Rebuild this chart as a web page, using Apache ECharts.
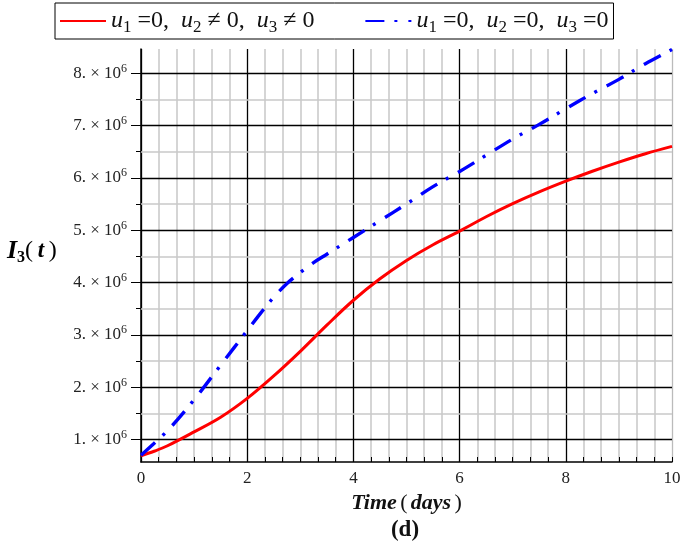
<!DOCTYPE html>
<html><head><meta charset="utf-8">
<script src="https://cdn.jsdelivr.net/npm/echarts@6/dist/echarts.min.js"></script>
<style>html,body{margin:0;padding:0;background:#fff}#c{width:685px;height:549px}</style>
</head><body><div id="c"></div>
<script>
// Time (days)
const redT = [0, 0.26, 0.5, 1.0, 1.5, 2.0, 2.5, 3.0, 3.5, 4.0, 4.5, 5.0, 5.5, 6.0, 6.5, 7.0, 7.5, 8.0, 8.5, 9.0, 9.5, 10];
const redV = [690000, 780000, 880000, 1145000, 1425000, 1785000, 2215000, 2685000, 3185000, 3660000, 4070000, 4420000, 4720000, 4980000, 5255000, 5505000, 5730000, 5935000, 6125000, 6300000, 6460000, 6600000];
const blueT = [0, 0.5, 1.0, 1.5, 2.0, 2.25, 2.5, 2.75, 3.0, 3.25, 3.5, 4.0, 4.5, 5.0, 5.5, 6.0, 6.5, 7.0, 7.5, 8.0, 8.5, 9.0, 9.5, 10];
const blueV = [700000, 1170000, 1760000, 2420000, 3080000, 3410000, 3720000, 3980000, 4190000, 4380000, 4540000, 4860000, 5180000, 5500000, 5830000, 6120000, 6430000, 6740000, 7020000, 7320000, 7610000, 7880000, 8180000, 8450000];
const yMajor = [1000000, 2000000, 3000000, 4000000, 5000000, 6000000, 7000000, 8000000];
const yMinor = [1500000, 2500000, 3500000, 4500000, 5500000, 6500000, 7500000];
const yMin = 570000, yMax = 8460000;

const SERIF = "'Liberation Serif','DejaVu Serif',serif";
const redName = '{i|u}{s|1}{n| =0,  }{i|u}{s|2}{n| ≠ 0,  }{i|u}{s|3}{n| ≠ 0}';
const blueName = '{i|u}{s|1}{n| =0,  }{i|u}{s|2}{n| =0,  }{i|u}{s|3}{n| =0}';
const legendRich = {
  i: {fontFamily: SERIF, fontStyle: 'italic', fontSize: 24, color: '#111', lineHeight: 24},
  n: {fontFamily: SERIF, fontSize: 24, color: '#111', lineHeight: 24},
  s: {fontFamily: SERIF, fontSize: 17, color: '#111', lineHeight: 24, padding: [13, 0, 0, 0]}
};
const pairs = (t, v) => t.map((x, k) => [x, v[k]]);

const chart = echarts.init(document.getElementById('c'));
chart.setOption({
  animation: false,
  backgroundColor: '#fff',
  grid: {left: 141, right: 13, top: 49, bottom: 87},
  legend: {
    data: [redName, blueName],
    left: 55, top: 3,
    padding: [3, 5, 3, 4],
    borderColor: '#000', borderWidth: 1,
    itemWidth: 46, itemHeight: 14, itemGap: 50,
    itemStyle: {opacity: 0},
    textStyle: {rich: legendRich}
  },
  xAxis: {
    type: 'value', min: 0, max: 10, interval: 2,
    axisLine: {lineStyle: {color: '#000', width: 1.5}},
    axisTick: {inside: true, length: 5, lineStyle: {color: '#000'}},
    minorTick: {show: true, splitNumber: 6, length: 5, lineStyle: {color: '#000'}},
    splitLine: {show: true, lineStyle: {color: ['#000', '#000', '#000', '#000', '#000', '#bbb'], width: 1.3}},
    minorSplitLine: {show: true, lineStyle: {color: '#c8c8c8', width: 1.5}},
    axisLabel: {fontFamily: SERIF, fontSize: 17, color: '#222', margin: 8},
    name: '{b|Time} {r|(} {b|days} {r|)}',
    nameLocation: 'middle', nameGap: 29,
    nameTextStyle: {rich: {
      b: {fontFamily: SERIF, fontStyle: 'italic', fontWeight: 'bold', fontSize: 22, color: '#111'},
      r: {fontFamily: SERIF, fontSize: 22, color: '#111'}
    }}
  },
  yAxis: [{
    type: 'value', min: yMin, max: yMax, position: 'left',
    axisLine: {show: true, lineStyle: {color: '#000', width: 1.5}},
    axisTick: {show: true, customValues: yMajor, length: 10, lineStyle: {color: '#000'}},
    splitLine: {show: false},
    axisLabel: {
      customValues: yMajor, margin: 14,
      formatter: v => '{n|' + (v / 1000000) + '. × 10}{p|6}',
      rich: {
        n: {fontFamily: SERIF, fontSize: 17, color: '#222', lineHeight: 20},
        p: {fontFamily: SERIF, fontSize: 12, color: '#222', lineHeight: 20, padding: [0, 0, 9, 0]}
      }
    }
  }, {
    type: 'value', min: yMin, max: yMax, position: 'left',
    axisLine: {show: false},
    axisTick: {show: true, customValues: yMinor, length: 5, lineStyle: {color: '#000'}},
    axisLabel: {show: false},
    splitLine: {show: false}
  }],
  series: [{
    name: 'hgrid', type: 'line', data: [], yAxisIndex: 0, silent: true,
    markLine: {
      silent: true, symbol: ['none', 'none'], label: {show: false}, z: 1, animation: false,
      data: yMinor.map(v => ({yAxis: v, lineStyle: {color: '#c8c8c8', width: 1.5, type: 'solid'}}))
        .concat(yMajor.map(v => ({yAxis: v, lineStyle: {color: '#000', width: 1.3, type: 'solid'}})))
    }
  }, {
    name: redName, type: 'line', data: pairs(redT, redV), smooth: 0.35, showSymbol: false, symbol: 'none', z: 5,
    lineStyle: {color: '#ff0000', width: 3}, itemStyle: {color: '#ff0000'}
  }, {
    name: blueName, type: 'line', data: pairs(blueT, blueV), smooth: 0.35, showSymbol: false, symbol: 'none', z: 5,
    lineStyle: {color: '#0000ff', width: 3.4, type: [19, 10, 3, 11]}, itemStyle: {color: '#0000ff'}
  }],
  graphic: [{
    type: 'text', left: 7, top: 236,
    style: {
      text: '{I|I}{s|3}{r|(}{t|\u2009t\u2009}{r|)}',
      rich: {
        I: {fontFamily: SERIF, fontStyle: 'italic', fontWeight: 'bold', fontSize: 26, color: '#111', lineHeight: 28},
        s: {fontFamily: SERIF, fontWeight: 'bold', fontSize: 16, color: '#111', lineHeight: 28, padding: [14, 0, 0, 0]},
        r: {fontFamily: SERIF, fontSize: 24, color: '#111', lineHeight: 28},
        t: {fontFamily: SERIF, fontStyle: 'italic', fontWeight: 'bold', fontSize: 23, color: '#111', lineHeight: 28}
      }
    }
  }, {
    type: 'text', x: 405, y: 519,
    style: {text: '(d)', fontFamily: SERIF, fontWeight: 'bold', fontSize: 23, fill: '#111', textAlign: 'center'}
  }]
});
</script></body></html>
